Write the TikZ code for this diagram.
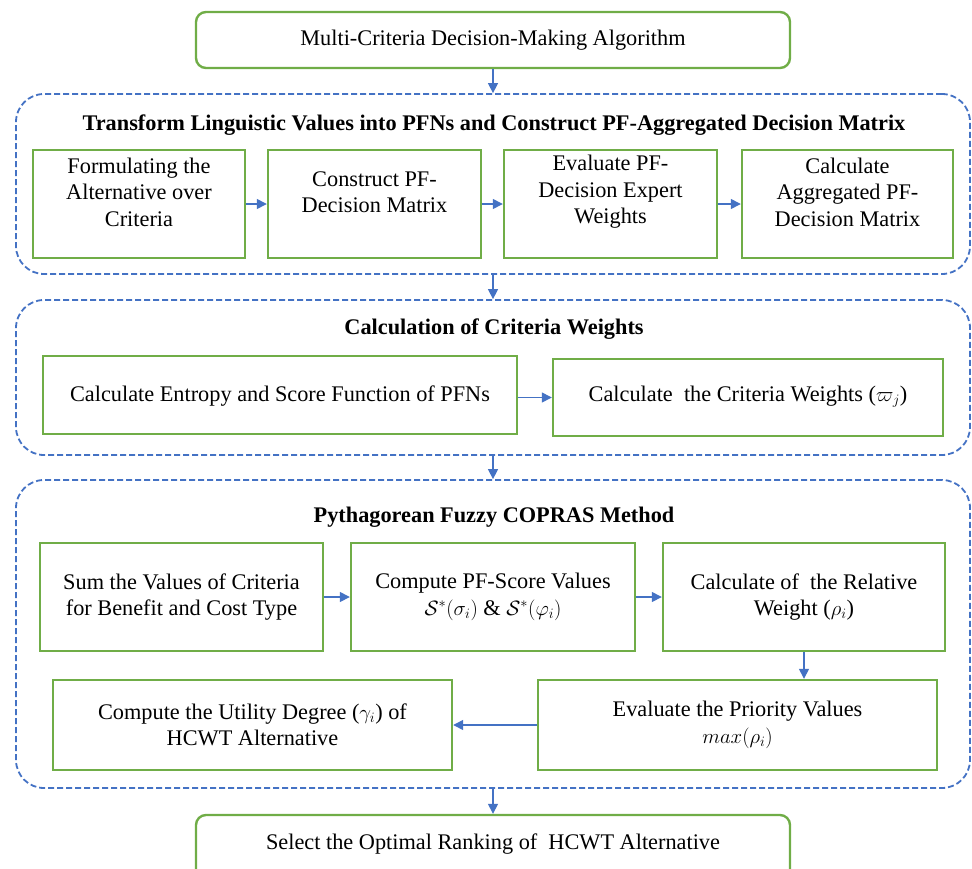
\documentclass[tikz,border=0pt]{standalone}
\usepackage{fontspec}
\setmainfont{Liberation Serif}
\newfontfamily\tnr{Liberation Serif}
\usetikzlibrary{arrows.meta}
\definecolor{grn}{RGB}{112,173,71}
\definecolor{blu}{RGB}{68,114,196}
\newcommand\mkbox[6]{%
  \pgfmathsetmacro\mbcx{(#3+#5)/2}\pgfmathsetmacro\mbcy{(#4+#6)/2}%
  \pgfmathsetmacro\mbww{#5-#3}\pgfmathsetmacro\mbhh{#6-#4}%
  \node[#2, minimum width=\mbww pt, minimum height=\mbhh pt] (#1) at (\mbcx,\mbcy) {};}
\begin{document}
\begin{tikzpicture}[x=1pt,y=-1pt,
  box/.style={draw=grn, line width=2.4pt, fill=white, inner sep=0pt},
  rbox/.style={box, rounded corners=10pt},
  cont/.style={draw=blu, line width=1.8pt, dash pattern=on 6pt off 3pt, rounded corners=28pt, inner sep=0pt},
  txt/.style={font=\tnr\fontsize{22.3}{26.5}\selectfont, align=center, inner sep=0pt},
  ttl/.style={font=\tnr\fontsize{22.3}{26}\selectfont\bfseries, inner sep=0pt},
  arr/.style={draw=blu, line width=1.4pt, -{Triangle[length=10pt,width=10pt]}}]
\useasboundingbox (0,0) rectangle (972,868);
\clip (0,0) rectangle (972,868);
% containers
\mkbox{c1}{cont}{16}{94}{970}{274}
\mkbox{c2}{cont}{16}{300}{970}{455}
\mkbox{c3}{cont}{16}{480}{970}{788}
\node[ttl] (h1) at (494,125) {Transform Linguistic Values into PFNs and Construct PF-Aggregated Decision Matrix};
\node[ttl] (h2) at (494,329) {Calculation of Criteria Weights};
\node[ttl] (h3) at (494,517) {Pythagorean Fuzzy COPRAS Method};
% top and final
\mkbox{top}{rbox}{196}{12}{790}{68}
\node[txt] (ttop) at (top.center) {Multi-Criteria Decision-Making Algorithm};
\mkbox{fin}{rbox}{196}{815}{790}{885}
\node[txt] (tfin) at (493,844) {Select the Optimal Ranking of~ HCWT Alternative};
% row 1
\mkbox{b1}{box}{33}{150}{245}{258}
\mkbox{b2}{box}{268}{150}{481}{258}
\mkbox{b3}{box}{504}{150}{717}{258}
\mkbox{b4}{box}{742}{150}{953}{258}
\node[txt] (tb1) at (139,192) {Formulating the\\Alternative over\\Criteria};
\node[txt] (tb2) at (374.5,192) {Construct PF-\\Decision Matrix};
\node[txt] (tb3) at (610.5,192) {Evaluate PF-\\Decision Expert\\Weights};
\node[txt] (tb4) at (847.5,192) {Calculate\\Aggregated PF-\\Decision Matrix};
% row 2
\mkbox{a1}{box}{43}{356}{517}{434}
\mkbox{a2}{box}{553}{359}{943}{436}
\node[txt] (ta1) at (280,396) {Calculate Entropy and Score Function of PFNs};
\node[txt] (ta2) at (748,397) {Calculate~ the Criteria Weights ($\varpi_j$)};
% row 3
\mkbox{d1}{box}{40}{543}{323}{651}
\mkbox{d2}{box}{351}{543}{635}{651}
\mkbox{d3}{box}{663}{543}{945}{651}
\node[txt] (td1) at (d1.center) {Sum the Values of Criteria\\for Benefit and Cost Type};
\node[txt] (td2) at (d2.center) {Compute PF-Score Values\\$\mathcal{S}^{*}(\sigma_i)$ \& $\mathcal{S}^{*}(\varphi_i)$};
\node[txt] (td3) at (d3.center) {Calculate of~ the Relative\\Weight ($\rho_i$)};
\mkbox{e1}{box}{53}{680}{452}{770}
\mkbox{e2}{box}{538}{680}{937}{770}
\node[txt] (te1) at (e1.center) {Compute the Utility Degree ($\gamma_i$) of\\HCWT Alternative};
\node[txt] (te2) at (e2.center) {Evaluate the Priority Values\\$max(\rho_i)$};
% arrows
\draw[arr] (top.south) -- (c1.north);
\draw[arr] (c1.south) -- (c2.north);
\draw[arr] (c2.south) -- (c3.north);
\draw[arr] (c3.south) -- (fin.north);
\draw[arr] (b1.east) -- (b2.west);
\draw[arr] (b2.east) -- (b3.west);
\draw[arr] (b3.east) -- (b4.west);
\draw[arr] (a1.east |- a2.west) -- (a2.west);
\draw[arr] (d1.east) -- (d2.west);
\draw[arr] (d2.east) -- (d3.west);
\draw[arr] (d3.south) -- (d3.south |- e2.north);
\draw[arr] (e2.west) -- (e1.east);
\end{tikzpicture}
\end{document}
